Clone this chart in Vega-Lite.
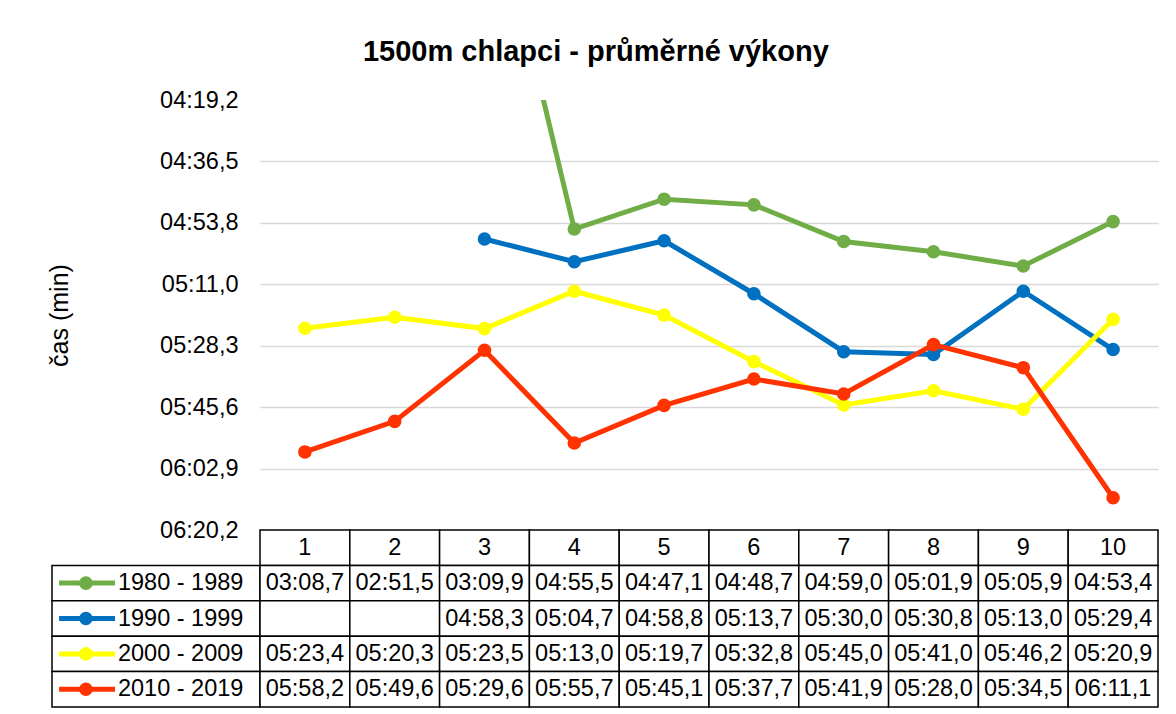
{
  "$schema": "https://vega.github.io/schema/vega-lite/v6.json",
  "padding": {"left": 46, "top": 38, "right": 0, "bottom": 0},
  "bounds": "flush",
  "spacing": 0,
  "columns": 2,
  "title": {"text": "1500m chlapci - průměrné výkony", "fontSize": 29, "fontWeight": "bold", "font": "Liberation Sans", "color": "#000000", "anchor": "middle", "offset": 21, "dx": -7},
  "config": {"view": {"stroke": null}, "font": "Liberation Sans", "text": {"font": "Liberation Sans"}},
  "datasets": {
    "casy": [
      {"dekada": "1980 - 1989", "n": 1, "cas": "03:08,7", "s": 188.7},
      {"dekada": "1980 - 1989", "n": 2, "cas": "02:51,5", "s": 171.5},
      {"dekada": "1980 - 1989", "n": 3, "cas": "03:09,9", "s": 189.9},
      {"dekada": "1980 - 1989", "n": 4, "cas": "04:55,5", "s": 295.5},
      {"dekada": "1980 - 1989", "n": 5, "cas": "04:47,1", "s": 287.1},
      {"dekada": "1980 - 1989", "n": 6, "cas": "04:48,7", "s": 288.7},
      {"dekada": "1980 - 1989", "n": 7, "cas": "04:59,0", "s": 299.0},
      {"dekada": "1980 - 1989", "n": 8, "cas": "05:01,9", "s": 301.9},
      {"dekada": "1980 - 1989", "n": 9, "cas": "05:05,9", "s": 305.9},
      {"dekada": "1980 - 1989", "n": 10, "cas": "04:53,4", "s": 293.4},
      {"dekada": "1990 - 1999", "n": 1, "cas": "", "s": null},
      {"dekada": "1990 - 1999", "n": 2, "cas": "", "s": null},
      {"dekada": "1990 - 1999", "n": 3, "cas": "04:58,3", "s": 298.3},
      {"dekada": "1990 - 1999", "n": 4, "cas": "05:04,7", "s": 304.7},
      {"dekada": "1990 - 1999", "n": 5, "cas": "04:58,8", "s": 298.8},
      {"dekada": "1990 - 1999", "n": 6, "cas": "05:13,7", "s": 313.7},
      {"dekada": "1990 - 1999", "n": 7, "cas": "05:30,0", "s": 330.0},
      {"dekada": "1990 - 1999", "n": 8, "cas": "05:30,8", "s": 330.8},
      {"dekada": "1990 - 1999", "n": 9, "cas": "05:13,0", "s": 313.0},
      {"dekada": "1990 - 1999", "n": 10, "cas": "05:29,4", "s": 329.4},
      {"dekada": "2000 - 2009", "n": 1, "cas": "05:23,4", "s": 323.4},
      {"dekada": "2000 - 2009", "n": 2, "cas": "05:20,3", "s": 320.3},
      {"dekada": "2000 - 2009", "n": 3, "cas": "05:23,5", "s": 323.5},
      {"dekada": "2000 - 2009", "n": 4, "cas": "05:13,0", "s": 313.0},
      {"dekada": "2000 - 2009", "n": 5, "cas": "05:19,7", "s": 319.7},
      {"dekada": "2000 - 2009", "n": 6, "cas": "05:32,8", "s": 332.8},
      {"dekada": "2000 - 2009", "n": 7, "cas": "05:45,0", "s": 345.0},
      {"dekada": "2000 - 2009", "n": 8, "cas": "05:41,0", "s": 341.0},
      {"dekada": "2000 - 2009", "n": 9, "cas": "05:46,2", "s": 346.2},
      {"dekada": "2000 - 2009", "n": 10, "cas": "05:20,9", "s": 320.9},
      {"dekada": "2010 - 2019", "n": 1, "cas": "05:58,2", "s": 358.2},
      {"dekada": "2010 - 2019", "n": 2, "cas": "05:49,6", "s": 349.6},
      {"dekada": "2010 - 2019", "n": 3, "cas": "05:29,6", "s": 329.6},
      {"dekada": "2010 - 2019", "n": 4, "cas": "05:55,7", "s": 355.7},
      {"dekada": "2010 - 2019", "n": 5, "cas": "05:45,1", "s": 345.1},
      {"dekada": "2010 - 2019", "n": 6, "cas": "05:37,7", "s": 337.7},
      {"dekada": "2010 - 2019", "n": 7, "cas": "05:41,9", "s": 341.9},
      {"dekada": "2010 - 2019", "n": 8, "cas": "05:28,0", "s": 328.0},
      {"dekada": "2010 - 2019", "n": 9, "cas": "05:34,5", "s": 334.5},
      {"dekada": "2010 - 2019", "n": 10, "cas": "06:11,1", "s": 371.1}
    ],
    "hlavicka": [
      {"n": 1, "radek": "záhlaví"}, {"n": 2, "radek": "záhlaví"}, {"n": 3, "radek": "záhlaví"},
      {"n": 4, "radek": "záhlaví"}, {"n": 5, "radek": "záhlaví"}, {"n": 6, "radek": "záhlaví"},
      {"n": 7, "radek": "záhlaví"}, {"n": 8, "radek": "záhlaví"}, {"n": 9, "radek": "záhlaví"},
      {"n": 10, "radek": "záhlaví"}
    ],
    "serie": [
      {"dekada": "1980 - 1989"}, {"dekada": "1990 - 1999"}, {"dekada": "2000 - 2009"}, {"dekada": "2010 - 2019"}
    ]
  },
  "concat": [
    {
      "width": 208, "height": 430,
      "data": {"values": []},
      "mark": "point"
    },
    {
      "width": 898, "height": 430,
      "data": {"name": "casy"},
      "encoding": {
        "x": {"field": "n", "type": "ordinal", "scale": {"type": "point", "padding": 0.5, "domain": [1,2,3,4,5,6,7,8,9,10]}, "axis": null},
        "y": {"field": "s", "type": "quantitative",
          "scale": {"domain": [259.2, 380.16], "reverse": true, "nice": false, "zero": false},
          "axis": {
            "values": [259.2, 276.48, 293.76, 311.04, 328.32, 345.6, 362.88, 380.16],
            "labelExpr": "'0' + floor(datum.value/60) + ':' + replace(format(datum.value % 60, '04.1f'), '.', ',')",
            "title": "čas (min)",
            "grid": true, "gridColor": "#D9D9D9", "gridWidth": 1.5,
            "gridOpacity": {"condition": {"test": "datum.value < 260", "value": 0}, "value": 1},
            "domain": false, "ticks": false,
            "labelFontSize": 23.5, "labelColor": "#000000", "labelPadding": 22, "labelFont": "Liberation Sans",
            "titleFontSize": 25, "titleFontWeight": "normal", "titleColor": "#000000", "titleFont": "Liberation Sans",
            "titleX": -201, "titleY": 215, "titleAngle": -90, "titleBaseline": "middle", "titleAlign": "center"
          }
        },
        "color": {"field": "dekada", "type": "nominal",
          "scale": {"domain": ["1980 - 1989", "1990 - 1999", "2000 - 2009", "2010 - 2019"], "range": ["#70AD47", "#0070C0", "#FFFF00", "#FF3300"]},
          "legend": null}
      },
      "layer": [
        {"mark": {"type": "line", "strokeWidth": 5, "clip": true}},
        {"mark": {"type": "circle", "size": 185, "opacity": 1, "clip": true}}
      ]
    },
    {
      "width": 208, "height": 177,
      "data": {"name": "serie"},
      "encoding": {
        "y": {"field": "dekada", "type": "nominal",
          "scale": {"domain": ["záhlaví", "1980 - 1989", "1990 - 1999", "2000 - 2009", "2010 - 2019"], "paddingInner": 0, "paddingOuter": 0},
          "axis": null}
      },
      "layer": [
        {"mark": {"type": "rect", "fill": "#ffffff", "stroke": "#000000", "strokeWidth": 1.5},
         "encoding": {"x": {"datum": 0, "type": "quantitative", "scale": {"domain": [0, 1]}, "axis": null}, "x2": {"datum": 1}}},
        {"mark": {"type": "rule", "strokeWidth": 5},
         "encoding": {"x": {"datum": 0.034, "type": "quantitative"}, "x2": {"datum": 0.303},
           "color": {"field": "dekada", "type": "nominal", "legend": null}}},
        {"mark": {"type": "circle", "size": 185, "opacity": 1},
         "encoding": {"x": {"datum": 0.163, "type": "quantitative"},
           "color": {"field": "dekada", "type": "nominal", "legend": null}}},
        {"mark": {"type": "text", "align": "left", "baseline": "middle", "fontSize": 23.5, "color": "#000000"},
         "encoding": {"x": {"datum": 0.317, "type": "quantitative"}, "text": {"field": "dekada"}}}
      ]
    },
    {
      "width": 898, "height": 177,
      "layer": [
        {"data": {"name": "hlavicka"},
         "mark": {"type": "rect", "fill": "#ffffff", "stroke": "#000000", "strokeWidth": 1.5},
         "encoding": {
           "x": {"field": "n", "type": "ordinal", "scale": {"domain": [1,2,3,4,5,6,7,8,9,10], "paddingInner": 0, "paddingOuter": 0}, "axis": null},
           "y": {"field": "radek", "type": "nominal", "scale": {"domain": ["záhlaví", "1980 - 1989", "1990 - 1999", "2000 - 2009", "2010 - 2019"], "paddingInner": 0, "paddingOuter": 0}, "axis": null}}},
        {"data": {"name": "hlavicka"},
         "mark": {"type": "text", "baseline": "middle", "fontSize": 23.5, "color": "#000000"},
         "encoding": {
           "x": {"field": "n", "type": "ordinal"},
           "y": {"field": "radek", "type": "nominal"},
           "text": {"field": "n"}}},
        {"data": {"name": "casy"},
         "mark": {"type": "rect", "fill": "#ffffff", "stroke": "#000000", "strokeWidth": 1.5},
         "encoding": {
           "x": {"field": "n", "type": "ordinal"},
           "y": {"field": "dekada", "type": "nominal"}}},
        {"data": {"name": "casy"},
         "mark": {"type": "text", "baseline": "middle", "fontSize": 23.5, "color": "#000000"},
         "encoding": {
           "x": {"field": "n", "type": "ordinal"},
           "y": {"field": "dekada", "type": "nominal"},
           "text": {"field": "cas"}}}
      ]
    }
  ]
}
